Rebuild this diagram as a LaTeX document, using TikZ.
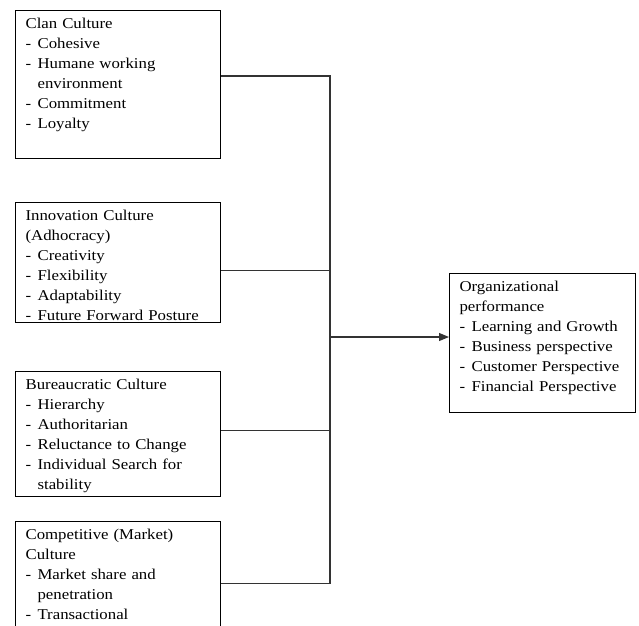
\documentclass[tikz,border=0pt]{standalone}
\usepackage{fontspec}
\setmainfont{Liberation Serif}[FakeStretch=1.12]
\usetikzlibrary{arrows.meta, positioning}

\newcommand{\itm}{\makebox[12pt][l]{-}}
\newcommand{\cont}{\hspace*{12pt}}

\begin{document}
\begin{tikzpicture}[
	x=1pt, y=-1pt,
	font=\fontsize{15pt}{20pt}\selectfont,
	box/.style={draw, line width=1.1pt, anchor=north west, align=left, inner xsep=10pt, inner ysep=8pt, text height=10pt},
	culture/.style={box, text width=185pt},
	line/.style={line width=1.1pt, draw=black!80},
	arrow/.style={line, -{Triangle[length=10pt, width=8pt]}}
]
\clip (0,0) rectangle (639,625);

% Culture boxes
\node[culture, text depth=122pt] (clan) at (15,10) {Clan Culture\\ \itm Cohesive\\ \itm Humane working\\ \cont environment\\ \itm Commitment\\ \itm Loyalty};
\node[culture, text depth=94pt, below=43pt of clan.south west, anchor=north west] (innov) {Innovation Culture\\ (Adhocracy)\\ \itm Creativity\\ \itm Flexibility\\ \itm Adaptability\\ \itm Future Forward Posture};
\node[culture, text depth=99pt, below=48pt of innov.south west, anchor=north west] (bureau) {Bureaucratic Culture\\ \itm Hierarchy\\ \itm Authoritarian\\ \itm Reluctance to Change\\ \itm Individual Search for\\ \cont stability};
\node[culture, text depth=120pt, below=24pt of bureau.south west, anchor=north west] (compet) {Competitive (Market)\\ Culture\\ \itm Market share and\\ \cont penetration\\ \itm Transactional};

% Outcome box
\node[box, text width=166pt, text depth=113pt] (perf) at (449,273) {Organizational\\ performance\\ \itm Learning and Growth\\ \itm Business perspective\\ \itm Customer Perspective\\ \itm Financial Perspective};

% Connectors
\coordinate (clanout) at ([yshift=-66pt]clan.north east);
\coordinate (innovout) at ([yshift=-68pt]innov.north east);
\coordinate (bureauout) at ([yshift=-59pt]bureau.north east);
\coordinate (competout) at ([yshift=-62pt]compet.north east);
\coordinate (bus) at (330,337);

\draw[line] (clanout) -- (clanout -| bus) -- (competout -| bus) -- (competout);
\draw[line] (innovout) -- (innovout -| bus);
\draw[line] (bureauout) -- (bureauout -| bus);
\draw[arrow] (bus) -- (bus -| perf.west);

\end{tikzpicture}
\end{document}
